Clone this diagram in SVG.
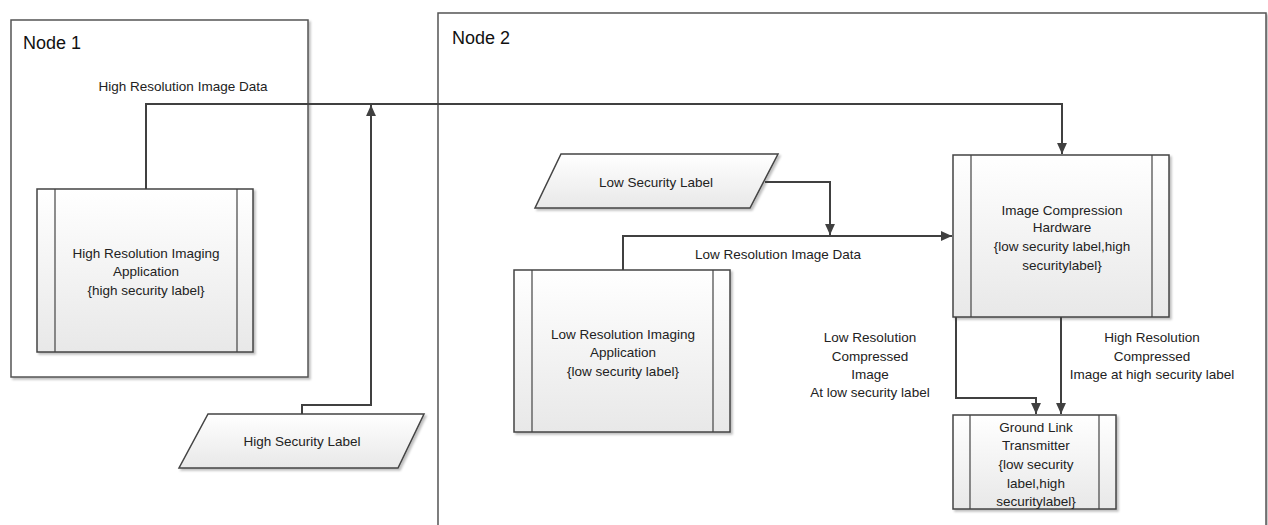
<svg xmlns="http://www.w3.org/2000/svg" width="1268" height="525" viewBox="0 0 1268 525">
<defs>
<linearGradient id="g" x1="0" y1="0" x2="0" y2="1">
<stop offset="0" stop-color="#ffffff"/>
<stop offset="1" stop-color="#e8e8e8"/>
</linearGradient>
<filter id="sh" x="-10%" y="-10%" width="130%" height="130%">
<feDropShadow dx="2" dy="2" stdDeviation="1.2" flood-color="#000" flood-opacity="0.25"/>
</filter>
<marker id="ar" viewBox="0 0 10 10" refX="10" refY="5" markerWidth="11" markerHeight="11" markerUnits="userSpaceOnUse" orient="auto">
<path d="M0,0.5 L10,5 L0,9.5 z" fill="#404040"/>
</marker>
</defs>
<style>
.frame{fill:#fff;stroke:#555;stroke-width:1.5}
.box{fill:url(#g);stroke:#444;stroke-width:1.5;filter:url(#sh)}
.bar{fill:none;stroke:#444;stroke-width:1.2}
.t{font-family:"Liberation Sans",Arial,sans-serif;font-size:13.5px;fill:#222;text-anchor:middle}
.title{font-family:"Liberation Sans",Arial,sans-serif;font-size:18px;fill:#111}
.c{fill:none;stroke:#404040;stroke-width:2}
</style>
<rect width="1268" height="525" fill="#fff"/>
<g id="node1">
<rect class="frame" x="11" y="20" width="297" height="357" filter="url(#sh)"/>
<text class="title" x="23" y="49">Node 1</text>
</g>
<g id="node2">
<rect class="frame" x="438" y="13" width="828" height="530" filter="url(#sh)"/>
<text class="title" x="452" y="44">Node 2</text>
</g>
<g id="high-res-app">
<rect class="box" x="37" y="189" width="216" height="163"/>
<line class="bar" x1="55" y1="189" x2="55" y2="352"/>
<line class="bar" x1="237" y1="189" x2="237" y2="352"/>
<text class="t" x="146" y="258">High Resolution Imaging</text>
<text class="t" x="146" y="276">Application</text>
<text class="t" x="146" y="295">{high security label}</text>
</g>
<g id="high-sec-label">
<polygon class="box" points="208,414 424,414 398,468 179,468"/>
<text class="t" x="302" y="446">High Security Label</text>
</g>
<g id="low-sec-label">
<polygon class="box" points="561,154 778,154 750,208 535,208"/>
<text class="t" x="656" y="187">Low Security Label</text>
</g>
<g id="low-res-app">
<rect class="box" x="514" y="270" width="216" height="162"/>
<line class="bar" x1="532" y1="270" x2="532" y2="432"/>
<line class="bar" x1="713" y1="270" x2="713" y2="432"/>
<text class="t" x="623" y="339">Low Resolution Imaging</text>
<text class="t" x="623" y="357">Application</text>
<text class="t" x="623" y="376">{low security label}</text>
</g>
<g id="compression">
<rect class="box" x="953" y="155" width="216" height="162"/>
<line class="bar" x1="971" y1="155" x2="971" y2="317"/>
<line class="bar" x1="1152" y1="155" x2="1152" y2="317"/>
<text class="t" x="1062" y="215">Image Compression</text>
<text class="t" x="1062" y="232">Hardware</text>
<text class="t" x="1062" y="251">{low security label,high</text>
<text class="t" x="1062" y="270">securitylabel}</text>
</g>
<g id="ground-link">
<rect class="box" x="953" y="415" width="163" height="94"/>
<line class="bar" x1="970" y1="415" x2="970" y2="509"/>
<line class="bar" x1="1099" y1="415" x2="1099" y2="509"/>
<text class="t" x="1036" y="432">Ground Link</text>
<text class="t" x="1036" y="450">Transmitter</text>
<text class="t" x="1036" y="469">{low security</text>
<text class="t" x="1036" y="488">label,high</text>
<text class="t" x="1036" y="506">securitylabel}</text>
</g>
<g id="connectors">
<path class="c" d="M146,189 V104 H1062 V154" marker-end="url(#ar)"/>
<path class="c" d="M302,414 V405 H371 V105" marker-end="url(#ar)"/>
<path class="c" d="M765,182 H830 V235" marker-end="url(#ar)"/>
<path class="c" d="M623,270 V236 H952" marker-end="url(#ar)"/>
<path class="c" d="M956,317 V398 H1036 V414" marker-end="url(#ar)"/>
<path class="c" d="M1061,317 V414" marker-end="url(#ar)"/>
<text class="t" x="183" y="91">High Resolution Image Data</text>
<text class="t" x="778" y="259">Low Resolution Image Data</text>
<text class="t" x="870" y="342">Low Resolution</text>
<text class="t" x="870" y="361">Compressed</text>
<text class="t" x="870" y="379">Image</text>
<text class="t" x="870" y="397">At low security label</text>
<text class="t" x="1152" y="342">High Resolution</text>
<text class="t" x="1152" y="361">Compressed</text>
<text class="t" x="1152" y="379">Image at high security label</text>
</g>
</svg>
